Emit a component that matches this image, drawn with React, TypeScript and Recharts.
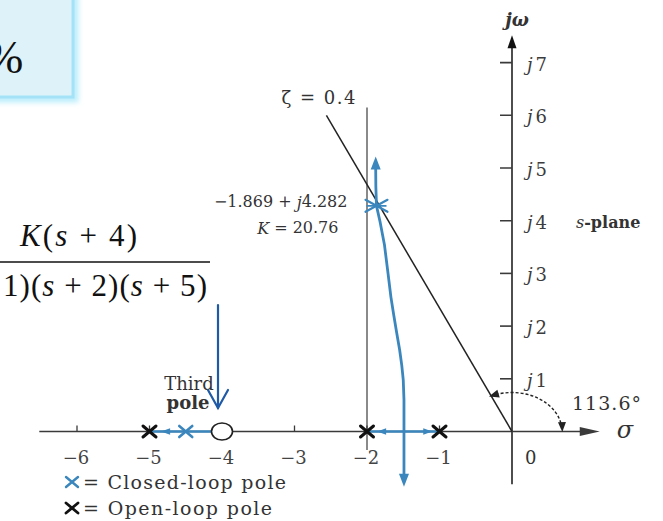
import React from 'react';
import { ComposedChart, XAxis, YAxis, Scatter, ReferenceLine } from 'recharts';

const W = 663;
const H = 521;
const BLUE = '#3a86bd';
const INK = '#222';
const AXIS = '#3a3a3a';
const TEXT = '#333';
const FIG_FONT = '"DejaVu Serif", serif';
const SLIDE_FONT = '"Liberation Serif", "Times New Roman", serif';

// G(s) = K(s+4) / ((s+1)(s+2)(s+5))
const openLoopPoles = [{ x: -5, y: 0 }, { x: -2, y: 0 }, { x: -1, y: 0 }];
const openLoopZeros = [{ x: -4, y: 0 }];

// closed-loop poles at the zeta = 0.4 crossing
const dominantPole = { x: -1.869, y: 4.282, gain: 20.76 };
const thirdPole = { x: -4.5, y: 0 };
const zeta = 0.4;
const zetaAngle = 113.6;

// complex branch leaving the breakaway point, and its short lower half
const upperBranch = [
  { x: -1.49, y: 0 },
  { x: -1.49, y: 0.6 },
  { x: -1.5, y: 0.98 },
  { x: -1.52, y: 1.25 },
  { x: -1.55, y: 1.55 },
  { x: -1.59, y: 1.87 },
  { x: -1.63, y: 2.2 },
  { x: -1.67, y: 2.55 },
  { x: -1.71, y: 3.0 },
  { x: -1.76, y: 3.55 },
  { x: -1.82, y: 3.98 },
  { x: -1.869, y: 4.282 },
  { x: -1.878, y: 4.65 },
  { x: -1.88, y: 4.98 },
];
const lowerBranch = [{ x: -1.49, y: 0 }, { x: -1.49, y: -0.85 }];
const realLocusLeft = [{ x: -5, y: 0 }, { x: -4.15, y: 0 }];
const realLocusRight = [{ x: -2, y: 0 }, { x: -1, y: 0 }];
const locusArrows = [
  { x: -1.88, y: 5.22, dir: -90 },
  { x: -1.49, y: -1.05, dir: 90 },
  { x: -1.86, y: 0, dir: 180 },
  { x: -1.1, y: 0, dir: 0 },
  { x: -4.84, y: 0, dir: 180 },
];

const zetaLine = [{ x: 0, y: 0 }, { x: -2.56, y: 6.0 }];
const asymptote = [{ x: -2, y: -0.35 }, { x: -2, y: 6.15 }];
const sigmaAxis = [{ x: -6.52, y: 0 }, { x: 1.05, y: 0 }];
const omegaAxis = [{ x: 0, y: -1.0 }, { x: 0, y: 7.3 }];
const sigmaTicks = [-6, -5, -4, -3, -2, -1];
const omegaTicks = [1, 2, 3, 4, 5, 6, 7];

const sigmaTickData = sigmaTicks.map((v) => ({ x: v, y: 0, label: `\u2212${Math.abs(v)}` }));
const omegaTickData = omegaTicks.map((v) => ({ x: 0, y: v, label: String(v) }));

const arrowHead = (tx: number, ty: number, deg: number, len: number, half: number, color: string) => {
  const a = (deg * Math.PI) / 180;
  const bx = tx - len * Math.cos(a);
  const by = ty - len * Math.sin(a);
  const px = -Math.sin(a) * half;
  const py = Math.cos(a) * half;
  return (
    <polygon
      points={`${tx},${ty} ${bx + px},${by + py} ${bx - px},${by - py}`}
      fill={color}
    />
  );
};

const cross = (cx: number, cy: number, hw: number, hh: number, color: string, w: number) => (
  <g stroke={color} strokeWidth={w} strokeLinecap="round">
    <line x1={cx - hw} y1={cy - hh} x2={cx + hw} y2={cy + hh} />
    <line x1={cx - hw} y1={cy + hh} x2={cx + hw} y2={cy - hh} />
  </g>
);

const none = () => <g />;

const textStyle = { fontFamily: FIG_FONT, fill: TEXT } as const;

export default function App() {
  const fmt = (v: number) => (v < 0 ? `\u2212${Math.abs(v)}` : String(v));

  return (
    <div style={{ position: 'absolute', left: 0, top: 0, width: W, height: H, background: '#fff' }}>
      <ComposedChart
        width={W}
        height={H}
        margin={{ top: 9.9, right: 6, bottom: 10.45, left: 4.5 }}
      >
        <XAxis type="number" dataKey="x" domain={[-7, 2]} hide allowDataOverflow />
        <YAxis type="number" dataKey="y" domain={[-1.5, 8]} hide allowDataOverflow />

        {/* asymptote at sigma = -2 */}
        <ReferenceLine segment={asymptote} stroke="#6d6d6d" strokeWidth={1.6} ifOverflow="visible" />
        {/* axes */}
        <ReferenceLine segment={sigmaAxis} stroke={AXIS} strokeWidth={1.6} ifOverflow="visible" />
        <ReferenceLine segment={omegaAxis} stroke={AXIS} strokeWidth={1.8} ifOverflow="visible" />
        {/* constant damping ratio line */}
        <ReferenceLine segment={zetaLine} stroke={INK} strokeWidth={1.5} ifOverflow="visible" />

        {/* tick marks */}
        <Scatter
          data={sigmaTickData}
          isAnimationActive={false}
          shape={(p: any) => (
            <line x1={p.cx} y1={p.cy - 6} x2={p.cx} y2={p.cy} stroke={AXIS} strokeWidth={1.3} />
          )}
        />
        <Scatter
          data={omegaTickData}
          isAnimationActive={false}
          shape={(p: any) => (
            <line x1={p.cx - 12} y1={p.cy} x2={p.cx} y2={p.cy} stroke={AXIS} strokeWidth={1.6} />
          )}
        />

        {/* tick labels */}
        <Scatter
          data={sigmaTickData}
          isAnimationActive={false}
          shape={(p: any) => (
            <text
              x={p.cx - 1}
              y={p.cy + 26}
              textAnchor="middle"
              dominantBaseline="central"
              fontSize={18}
              {...textStyle}
              fill="#444"
            >
              {p.payload.label}
            </text>
          )}
        />
        <Scatter
          data={omegaTickData}
          isAnimationActive={false}
          shape={(p: any) => (
            <text x={p.cx + 15} y={p.cy + 1} dominantBaseline="central" fontSize={18} {...textStyle} fill="#3c3c3c">
              <tspan fontStyle="italic">j</tspan>
              <tspan dx={3}>{p.payload.label}</tspan>
            </text>
          )}
        />

        {/* root locus on the real axis */}
        <Scatter data={realLocusLeft} isAnimationActive={false} fill="none" line={{ stroke: BLUE, strokeWidth: 2.6 }} lineType="joint" shape={none} />
        <Scatter data={realLocusRight} isAnimationActive={false} fill="none" line={{ stroke: BLUE, strokeWidth: 2.6 }} lineType="joint" shape={none} />
        {/* complex branches */}
        <Scatter data={upperBranch} isAnimationActive={false} fill="none" line={{ stroke: BLUE, strokeWidth: 2.8, strokeLinejoin: 'round' }} lineType="joint" shape={none} />
        <Scatter data={lowerBranch} isAnimationActive={false} fill="none" line={{ stroke: BLUE, strokeWidth: 2.8 }} lineType="joint" shape={none} />
        <Scatter
          data={locusArrows}
          isAnimationActive={false}
          shape={(p: any) =>
            p.payload.y === 0
              ? arrowHead(p.cx, p.cy, p.payload.dir, 9, 3.2, BLUE)
              : arrowHead(p.cx, p.cy, p.payload.dir, 13, 5, BLUE)
          }
        />

        {/* 113.6 degree arc about the origin */}
        <Scatter
          data={[{ x: 0, y: 0 }]}
          isAnimationActive={false}
          shape={(p: any) => {
            const rx = 50;
            const ry = 39;
            const a0 = (5 * Math.PI) / 180;
            const a1 = (zetaAngle * Math.PI) / 180;
            const x0 = p.cx + rx * Math.cos(a0);
            const y0 = p.cy - ry * Math.sin(a0);
            const x1 = p.cx + rx * Math.cos(a1);
            const y1 = p.cy - ry * Math.sin(a1);
            return (
              <g>
                <path
                  d={`M ${x0} ${y0} A ${rx} ${ry} 0 0 0 ${x1} ${y1}`}
                  fill="none"
                  stroke={INK}
                  strokeWidth={1.4}
                  strokeDasharray="3 2"
                />
                {arrowHead(x0 + 0.5, y0 + 4, 88, 10, 4, INK)}
                {arrowHead(x1 - 3, y1 + 0.8, 163, 10, 4, INK)}
                <text x={p.cx + 60} y={p.cy - 29} dominantBaseline="central" fontSize={19} {...textStyle} textLength={69}>
                  {`${zetaAngle}\u00b0`}
                </text>
                <text x={p.cx + 13} y={p.cy + 26} dominantBaseline="central" fontSize={18} {...textStyle}>
                  0
                </text>
              </g>
            );
          }}
        />

        {/* axis arrowheads and names */}
        <Scatter
          data={[{ x: 1.21, y: 0 }]}
          isAnimationActive={false}
          shape={(p: any) => (
            <g>
              {arrowHead(p.cx, p.cy, 0, 20, 4.5, AXIS)}
              <text x={p.cx + 17} y={p.cy - 2} dominantBaseline="central" fontSize={24} fontStyle="italic" {...textStyle}>
                σ
              </text>
            </g>
          )}
        />
        <Scatter
          data={[{ x: 0, y: 7.52 }]}
          isAnimationActive={false}
          shape={(p: any) => (
            <g>
              {arrowHead(p.cx, p.cy, -90, 13, 4.5, '#111')}
              <text x={p.cx + 5} y={p.cy - 16} textAnchor="middle" dominantBaseline="central" fontSize={18} fontStyle="italic" fontWeight="bold" {...textStyle}>
                jω
              </text>
            </g>
          )}
        />
        <Scatter
          data={[{ x: 0, y: 4 }]}
          isAnimationActive={false}
          shape={(p: any) => (
            <text x={p.cx + 64} y={p.cy + 1} dominantBaseline="central" fontSize={16} {...textStyle}>
              <tspan fontStyle="italic">s</tspan>
              <tspan fontWeight="bold">-plane</tspan>
            </text>
          )}
        />

        {/* zeta label at the end of the damping line */}
        <Scatter
          data={[zetaLine[1]]}
          isAnimationActive={false}
          shape={(p: any) => (
            <text x={p.cx - 8} y={p.cy - 18} textAnchor="middle" dominantBaseline="central" fontSize={18} {...textStyle} textLength={74}>
              {`ζ = ${zeta}`}
            </text>
          )}
        />

        {/* open-loop zero */}
        <Scatter
          data={openLoopZeros}
          isAnimationActive={false}
          shape={(p: any) => (
            <g>
              <ellipse cx={p.cx} cy={p.cy} rx={10.5} ry={8.5} fill="#fff" stroke={INK} strokeWidth={1.6} />
              <text x={p.cx - 33} y={p.cy - 48} textAnchor="middle" dominantBaseline="central" fontSize={18} {...textStyle}>
                Third
              </text>
              <text x={p.cx - 34} y={p.cy - 29} textAnchor="middle" dominantBaseline="central" fontSize={18} fontWeight="bold" {...textStyle}>
                pole
              </text>
            </g>
          )}
        />

        {/* open-loop poles */}
        <Scatter
          data={openLoopPoles}
          isAnimationActive={false}
          shape={(p: any) => cross(p.cx, p.cy, 6.5, 5.5, '#111', 3)}
        />

        {/* closed-loop poles */}
        <Scatter
          data={[thirdPole]}
          isAnimationActive={false}
          shape={(p: any) => cross(p.cx, p.cy, 6.5, 5.5, BLUE, 2.6)}
        />
        <Scatter
          data={[dominantPole]}
          isAnimationActive={false}
          shape={(p: any) => (
            <g>
              {cross(p.cx, p.cy, 11, 6, BLUE, 2.2)}
              <line x1={p.cx - 10} y1={p.cy} x2={p.cx + 10} y2={p.cy} stroke={BLUE} strokeWidth={1.6} />
              <text x={p.cx - 29} y={p.cy - 4} textAnchor="end" dominantBaseline="central" fontSize={16} {...textStyle}>
                {`${fmt(p.payload.x)} + `}
                <tspan fontStyle="italic">j</tspan>
                {`${p.payload.y}`}
              </text>
              <text x={p.cx - 38} y={p.cy + 22} textAnchor="end" dominantBaseline="central" fontSize={16} {...textStyle}>
                <tspan fontStyle="italic">K</tspan>
                {` = ${p.payload.gain}`}
              </text>
            </g>
          )}
        />
      </ComposedChart>

      {/* slide overlay: transfer function box and pointer */}
      <svg
        width={W}
        height={H}
        style={{ position: 'absolute', left: 0, top: 0, pointerEvents: 'none' }}
      >
        <defs>
          <filter id="soft" x="-20%" y="-20%" width="140%" height="140%">
            <feGaussianBlur stdDeviation="2.5" />
          </filter>
        </defs>
        <rect x={-30} y={-30} width={104} height={128} fill="none" stroke="#bdeefc" strokeWidth={9} filter="url(#soft)" />
        <rect x={-30} y={-30} width={103} height={127} fill="#def3f9" stroke="#a3e2f7" strokeWidth={3} />
        <text x={-15} y={73} fontSize={46} fontFamily={SLIDE_FONT} fill="#111">
          %
        </text>

        <text x={20} y={246} fontSize={31} fontFamily={SLIDE_FONT} fill="#111" textLength={117}>
          <tspan fontStyle="italic">K</tspan>
          <tspan>(</tspan>
          <tspan fontStyle="italic">s</tspan>
          <tspan> + 4)</tspan>
        </text>
        <line x1={0} y1={262} x2={210} y2={262} stroke="#111" strokeWidth={1.5} />
        <text x={3} y={296} fontSize={31} fontFamily={SLIDE_FONT} fill="#111" textLength={204}>
          <tspan>1)(</tspan>
          <tspan fontStyle="italic">s</tspan>
          <tspan> + 2)(</tspan>
          <tspan fontStyle="italic">s</tspan>
          <tspan> + 5)</tspan>
        </text>

        <g stroke="#1f5aa6" strokeWidth={2.2} fill="none" strokeLinecap="round">
          <line x1={218} y1={305} x2={218} y2={408} />
          <polyline points="208,390 218,408 228,390" />
        </g>

        {/* legend */}
        {cross(72, 482, 6, 5, BLUE, 2.4)}
        <text x={83} y={482} dominantBaseline="central" fontSize={19} fontFamily={FIG_FONT} fill={TEXT} textLength={203}>
          = Closed-loop pole
        </text>
        {cross(72, 508, 6, 5, '#111', 2.8)}
        <text x={83} y={508} dominantBaseline="central" fontSize={19} fontFamily={FIG_FONT} fill={TEXT} textLength={189}>
          = Open-loop pole
        </text>
      </svg>
    </div>
  );
}
